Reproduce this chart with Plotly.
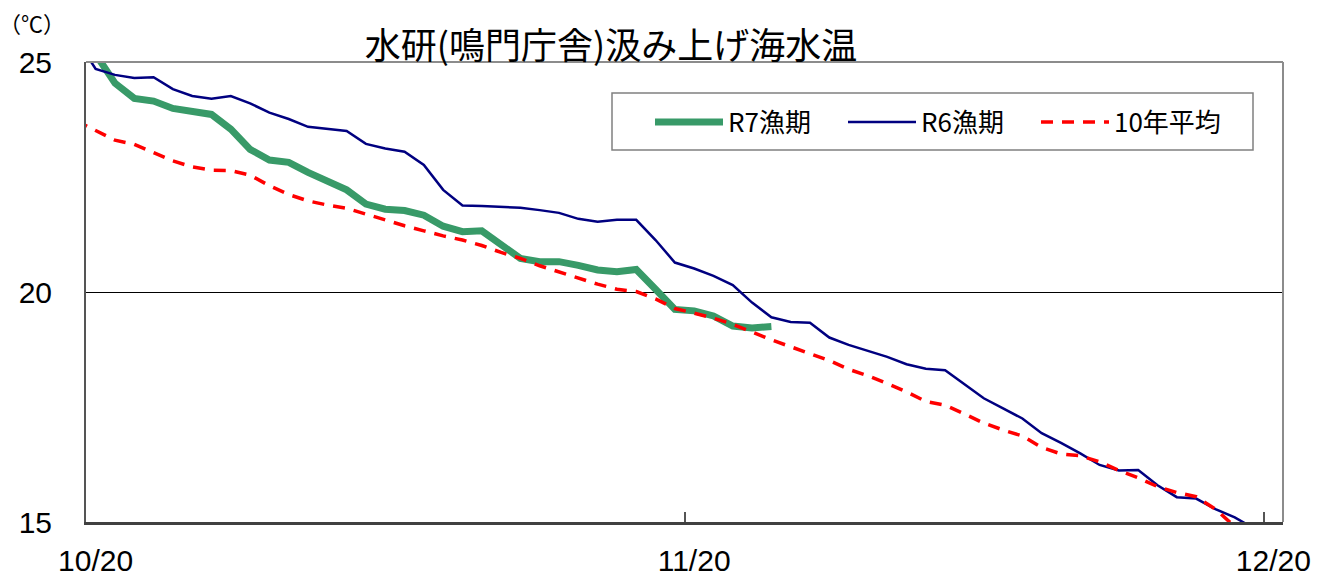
import numpy as np
import pandas as pd
import plotly.graph_objects as go

# ---- data (daily values, 10/19 .. 12/19) ----
dates = pd.date_range("2025-10-19", "2025-12-19", freq="D")
axis_start = pd.Timestamp("2025-10-20")

r6 = [25.50, 24.85, 24.72, 24.65, 24.67, 24.41, 24.26, 24.20, 24.26, 24.10,
      23.90, 23.76, 23.59, 23.55, 23.50, 23.22, 23.12, 23.05, 22.76, 22.22,
      21.88, 21.87, 21.85, 21.83, 21.78, 21.72, 21.59, 21.53, 21.57, 21.57,
      21.13, 20.64, 20.51, 20.35, 20.15, 19.77, 19.45, 19.35, 19.33, 19.01,
      18.85, 18.72, 18.59, 18.43, 18.33, 18.30, 18.00, 17.69, 17.47, 17.25,
      16.93, 16.72, 16.49, 16.24, 16.12, 16.13, 15.80, 15.54, 15.51, 15.28,
      15.10, 14.86]

r7 = [None, 25.17, 24.54, 24.21, 24.15, 23.99, 23.91, 23.86, 23.54, 23.10,
      22.87, 22.82, 22.60, 22.40, 22.22, 21.91, 21.80, 21.77, 21.67, 21.43,
      21.31, 21.33, 21.02, 20.73, 20.66, 20.66, 20.58, 20.48, 20.44, 20.49,
      20.06, 19.62, 19.59, 19.48, 19.26, 19.22, 19.25]

avg10 = [23.72, 23.50, 23.30, 23.21, 23.03, 22.85, 22.72, 22.65, 22.64, 22.54,
         22.31, 22.12, 21.98, 21.89, 21.82, 21.69, 21.57, 21.44, 21.33, 21.22,
         21.13, 21.01, 20.86, 20.73, 20.57, 20.44, 20.31, 20.17, 20.06, 20.01,
         19.85, 19.64, 19.54, 19.43, 19.30, 19.12, 18.96, 18.81, 18.67, 18.51,
         18.32, 18.18, 18.01, 17.83, 17.62, 17.54, 17.35, 17.15, 17.00, 16.87,
         16.62, 16.48, 16.44, 16.31, 16.12, 15.96, 15.77, 15.64, 15.55, 15.28,
         14.90]

series_names = ["R7漁期", "R6漁期", "10年平均"]
x_tick_dates = ["2025-10-20", "2025-11-20", "2025-12-20"]
x_tick_text = ["10/20", "11/20", "12/20"]
y_ticks = [15, 20, 25]
title_text = "水研(鳴門庁舎)汲み上げ海水温"
unit_text = "（℃）"

# day slots: each daily value is centred in its day (between tick marks)
day = (dates - axis_start).days.to_numpy()
xpos = day + 0.5


def xs(vals):
    return xpos[:len(vals)]


tick_days = [(pd.Timestamp(d) - axis_start).days for d in x_tick_dates]

fig = go.Figure()
fig.add_trace(go.Scatter(x=xs(r7), y=r7, mode="lines", name=series_names[0],
                         line=dict(color="#389a68", width=7)))
fig.add_trace(go.Scatter(x=xs(r6), y=r6, mode="lines", name=series_names[1],
                         line=dict(color="#000080", width=2.5)))
fig.add_trace(go.Scatter(x=xs(avg10), y=avg10, mode="lines", name=series_names[2],
                         line=dict(color="#ff0000", width=3.5, dash="12px,9px")))

num_font = dict(family="Liberation Sans, Arial, sans-serif", size=30, color="#000000")
jp_font = "Noto Sans CJK JP, sans-serif"

FIG_H = 585
PW, PH = 1197, 460  # plot-area size in px (for placing decorations)


def px_x(px):
    return (px - 86) / PW


def px_y(py):
    return (522 - py) / PH


fig.update_layout(
    width=1335, height=FIG_H,
    margin=dict(l=86, r=52, t=62, b=FIG_H - 522, autoexpand=False),
    paper_bgcolor="white", plot_bgcolor="white",
    showlegend=True,
    legend=dict(orientation="h", x=px_x(650), y=px_y(122), xanchor="left", yanchor="middle",
                bgcolor="rgba(0,0,0,0)", borderwidth=0,
                font=dict(family=jp_font, size=26, color="#000000"),
                itemwidth=68, entrywidth=110, entrywidthmode="pixels"),
    title=dict(text=title_text, x=px_x(611), xref="paper", xanchor="center",
               y=1 - 46 / FIG_H, yref="container", yanchor="middle",
               font=dict(family=jp_font, size=36, color="#000000")),
    xaxis=dict(range=[0, 62], tickmode="array", automargin=False,
               tickvals=[t + 0.5 for t in tick_days], ticktext=x_tick_text,
               ticks="", showgrid=False, zeroline=False,
               showline=True, linecolor="#404040", linewidth=3,
               tickfont=num_font, ticklabelstandoff=10,
               minor=dict(tickmode="array", tickvals=tick_days[1:], ticks="inside",
                          ticklen=10, tickwidth=1.5, tickcolor="#555555",
                          showgrid=False)),
    yaxis=dict(range=[15, 25], tickmode="array", tickvals=y_ticks, automargin=False,
               ticktext=[str(v) for v in y_ticks], ticks="",
               showgrid=True, gridcolor="#000000", gridwidth=1, zeroline=False,
               showline=True, linecolor="#555555", linewidth=2,
               tickfont=num_font, ticklabelstandoff=26),
    shapes=[
        dict(type="line", xref="x domain", yref="y domain", x0=0, x1=1, y0=1, y1=1,
             line=dict(color="#8c8c8c", width=2), layer="above"),
        dict(type="line", xref="x domain", yref="y domain", x0=1, x1=1, y0=0, y1=1,
             line=dict(color="#8c8c8c", width=2), layer="above"),
        dict(type="rect", xref="paper", yref="paper",
             x0=px_x(612), x1=px_x(1253), y0=px_y(150), y1=px_y(93),
             line=dict(color="#808080", width=1.5), fillcolor="white", layer="above"),
    ],
    annotations=[
        dict(text=unit_text, xref="paper", yref="paper", x=px_x(32),
             y=px_y(22), xanchor="center", yanchor="middle", showarrow=False,
             font=dict(family=jp_font, size=22, color="#000000")),
    ],
)

fig.write_html("out.html", config={"displayModeBar": False},
               post_script="document.body.style.margin='0';document.body.style.overflow='hidden';")
